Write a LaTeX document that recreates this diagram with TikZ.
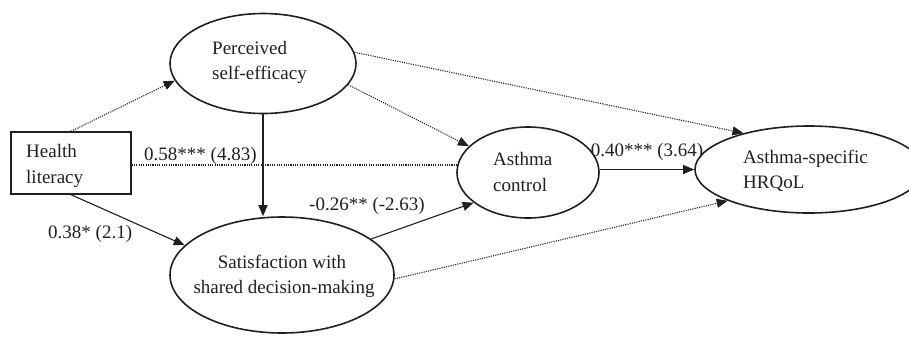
\documentclass[tikz,border=0pt]{standalone}
\usepackage{fontspec}
\setmainfont{Liberation Serif}
\usetikzlibrary{shapes.geometric,arrows.meta}
\definecolor{ink}{HTML}{231F20}
\begin{document}
\begin{tikzpicture}[x=1pt,y=-1pt,
  every node/.style={font=\fontsize{19}{25}\selectfont, text=ink},
  ell/.style={draw=ink, ellipse, line width=1.6pt, inner sep=0pt},
  boxn/.style={draw=ink, rectangle, line width=1.4pt, inner sep=0pt},
  txt/.style={anchor=base west, inner sep=0pt},
  ctxt/.style={anchor=base, inner sep=0pt},
  solidarrow/.style={draw=ink, line width=1.1pt, -{Triangle[length=11pt,width=9pt]}},
  dotarrow/.style={draw=ink, line width=1.1pt, dash pattern=on 1.1pt off 1.2pt, -{Triangle[length=11pt,width=9pt]}},
  dotline/.style={draw=ink, line width=1.1pt, dash pattern=on 1.1pt off 1.2pt}]
\useasboundingbox (0,0) rectangle (909,338);
\fill[white] (0,0) rectangle (909,338);

% shapes
\node[boxn, minimum width=120pt, minimum height=62pt] (hl) at (71,163) {};
\node[ell, minimum width=186pt, minimum height=100pt] (pse) at (263,63.5) {};
\node[ell, minimum width=224pt, minimum height=116pt] (sdm) at (282,275) {};
\node[ell, minimum width=142pt, minimum height=91pt] (ac) at (528,172.5) {};
\node[ell, minimum width=228pt, minimum height=87pt] (hrq) at (809,169.5) {};

% texts
\node[txt] (hla) at (26,157) {Health};
\node[txt] (hlb) at (26,183) {literacy};
\node[txt] (psea) at (212,54) {Perceived};
\node[txt] (pseb) at (212,79) {self-efficacy};
\node[ctxt] (sdma) at (282,268) {Satisfaction with};
\node[ctxt] (sdmb) at (284,293) {shared decision-making};
\node[txt] (aca) at (493,165) {Asthma};
\node[txt] (acb) at (493,191) {control};
\node[txt] (hrqa) at (743,163) {Asthma-specific};
\node[txt] (hrqb) at (743,188) {HRQoL};

% connectors
\draw[dotarrow] (hl.north) -- (pse.191);
\draw[dotline] ([yshift=-2pt]hl.east) -- ([yshift=-2pt]hl.east -| ac.west);
\draw[solidarrow] (hl.south) -- (sdm.163);
\draw[solidarrow] (pse.south) -- (pse.south |- sdm.north);
\draw[dotarrow] (pse.7) -- (hrq.151);
\draw[dotarrow] (pse.346) -- (ac.156);
\draw[solidarrow] (sdm.22) -- (ac.209);
\draw[solidarrow] (ac.east |- hrq.west) -- (hrq.west);
\draw[dotarrow] (sdm.358) -- (hrq.201);

% labels
\node[txt] (l1) at (144,160) {0.58*** (4.83)};
\node[txt] (l2) at (48,238) {0.38* (2.1)};
\node[txt] (l3) at (309,210) {-0.26** (-2.63)};
\node[ctxt] (l4) at (647,156) {0.40*** (3.64)};
\end{tikzpicture}
\end{document}
